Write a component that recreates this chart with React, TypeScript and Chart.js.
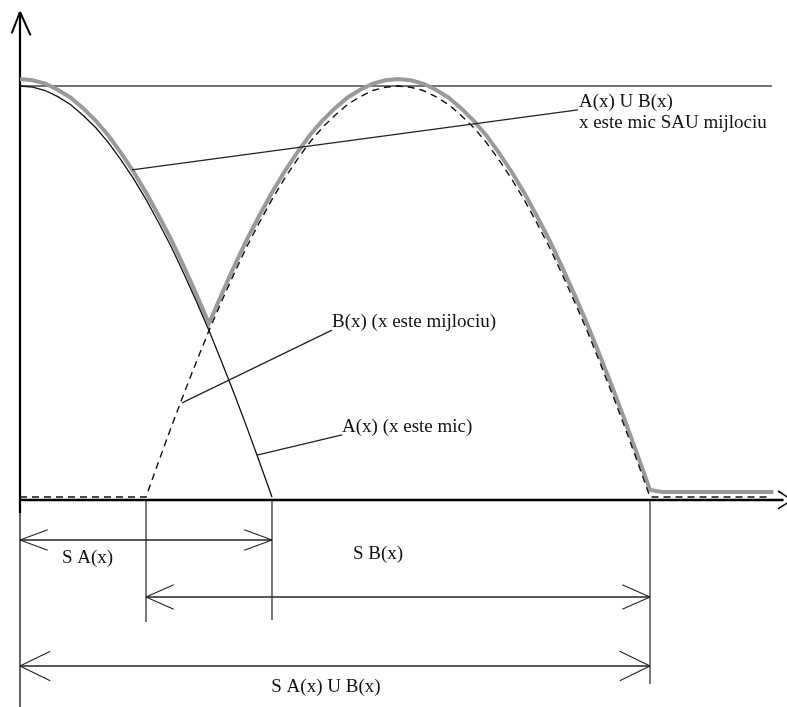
import React, { useEffect, useRef } from "react";
import { Chart, registerables } from "chart.js";

Chart.register(...registerables);

// ---- data (x in abstract units, y = membership degree) ----
const aX = [0, 0.5, 1, 1.5, 2, 2.5, 3, 3.5, 4, 4.5, 5, 5.5, 6, 6.5, 7, 7.5, 8, 8.5, 9, 9.5, 10];
const aY = [1, 0.997, 0.989, 0.974, 0.955, 0.929, 0.899, 0.863, 0.821, 0.775, 0.724, 0.668, 0.609, 0.544, 0.476, 0.405, 0.329, 0.251, 0.17, 0.086, 0];

const bX = [0, 5, 5.5, 6, 6.5, 7, 7.5, 8, 8.5, 9, 9.5, 10, 10.5, 11, 11.5, 12, 12.5, 13, 13.5, 14, 14.5, 15,
  15.5, 16, 16.5, 17, 17.5, 18, 18.5, 19, 19.5, 20, 20.5, 21, 21.5, 22, 22.5, 23, 23.5, 24, 24.5, 25, 29.7];
const bY = [0, 0, 0.086, 0.17, 0.251, 0.329, 0.405, 0.476, 0.544, 0.609, 0.668, 0.724, 0.775, 0.821, 0.863, 0.899, 0.929, 0.955, 0.974, 0.989, 0.997, 1,
  0.997, 0.989, 0.974, 0.955, 0.929, 0.899, 0.863, 0.821, 0.775, 0.724, 0.668, 0.609, 0.544, 0.476, 0.405, 0.329, 0.251, 0.17, 0.086, 0, 0];

const uX = [0, 0.5, 1, 1.5, 2, 2.5, 3, 3.5, 4, 4.5, 5, 5.5, 6, 6.5, 7, 7.5, 8, 8.5, 9, 9.5, 10, 10.5, 11, 11.5, 12, 12.5,
  13, 13.5, 14, 14.5, 15, 15.5, 16, 16.5, 17, 17.5, 18, 18.5, 19, 19.5, 20, 20.5, 21, 21.5, 22, 22.5, 23, 23.5, 24, 24.5, 25, 25.5, 29.9];
const uY = [1.017, 1.014, 1.006, 0.991, 0.972, 0.946, 0.916, 0.88, 0.838, 0.792, 0.741, 0.685, 0.626, 0.561, 0.493, 0.422,
  0.493, 0.561, 0.626, 0.685, 0.741, 0.792, 0.838, 0.88, 0.916, 0.946, 0.972, 0.991, 1.006, 1.014, 1.017,
  1.014, 1.006, 0.991, 0.972, 0.946, 0.916, 0.88, 0.838, 0.792, 0.741, 0.685, 0.626, 0.561, 0.493, 0.422, 0.346, 0.268, 0.187, 0.103, 0.017,
  0.012, 0.012];

// support bounds (x units)
const supportA = [0, 10];
const supportB = [5, 25];
const supportU = [0, 25];

// texts
const labelUnion1 = "A(x) U B(x)";
const labelUnion2 = "x este mic SAU mijlociu";
const labelB = "B(x) (x este mijlociu)";
const labelA = "A(x) (x este mic)";
const labelSA = "S A(x)";
const labelSB = "S B(x)";
const labelSU = "S A(x) U B(x)";

// ---- layout of the diagram (in data units) ----
const X_MIN = -0.7937;
const X_MAX = 30.437;
const Y_MIN = -0.5109;
const Y_MAX = 1.2092;

const AXIS_Y = -0.0073;
const ARROW_Y = { A: -0.1046, B: -0.2433, U: -0.4112 };
const GUIDE_BOTTOM = { b0: -0.304, a1: -0.299, b1: -0.455 };

const pts = (xs: number[], ys: number[]) => xs.map((x, i) => ({ x, y: ys[i] }));

const diagramPlugin = {
  id: "diagram",
  beforeDatasetsDraw(chart: any) {
    const ctx = chart.ctx as CanvasRenderingContext2D;
    const sx = (v: number) => chart.scales.x.getPixelForValue(v);
    const sy = (v: number) => chart.scales.y.getPixelForValue(v);
    const seg = (x1: number, y1: number, x2: number, y2: number, w: number, c: string) => {
      ctx.beginPath();
      ctx.lineWidth = w;
      ctx.strokeStyle = c;
      ctx.moveTo(sx(x1), sy(y1));
      ctx.lineTo(sx(x2), sy(y2));
      ctx.stroke();
    };
    ctx.save();
    ctx.lineCap = "butt";
    // horizontal line at membership 1
    seg(0, 1, 29.84, 1, 1.3, "#444");
    // y axis
    seg(0, 1.18, 0, -0.039, 2.2, "#000");
    seg(0, -0.039, 0, Y_MIN, 1.3, "#111");
    seg(0, 1.18, -0.33, 1.128, 2, "#000");
    seg(0, 1.18, 0.42, 1.123, 2, "#000");
    // x axis
    seg(0, AXIS_Y, 30.3, AXIS_Y, 2.5, "#000");
    seg(30.63, AXIS_Y, 30.08, 0.0146, 1.6, "#000");
    seg(30.63, AXIS_Y, 30.08, -0.029, 1.6, "#000");
    // vertical guides
    seg(supportB[0], AXIS_Y, supportB[0], GUIDE_BOTTOM.b0, 1.2, "#222");
    seg(supportA[1], AXIS_Y, supportA[1], GUIDE_BOTTOM.a1, 1.2, "#222");
    seg(supportB[1], AXIS_Y, supportB[1], GUIDE_BOTTOM.b1, 1.2, "#222");
    ctx.restore();
  },
  afterDatasetsDraw(chart: any) {
    const ctx = chart.ctx as CanvasRenderingContext2D;
    const sx = (v: number) => chart.scales.x.getPixelForValue(v);
    const sy = (v: number) => chart.scales.y.getPixelForValue(v);
    const seg = (x1: number, y1: number, x2: number, y2: number, w: number, c: string) => {
      ctx.beginPath();
      ctx.lineWidth = w;
      ctx.strokeStyle = c;
      ctx.moveTo(sx(x1), sy(y1));
      ctx.lineTo(sx(x2), sy(y2));
      ctx.stroke();
    };
    const dbl = (xa: number, xb: number, y: number, len: number, half: number) => {
      seg(xa, y, xb, y, 1.3, "#222");
      seg(xa, y, xa + len, y + half, 1.1, "#222");
      seg(xa, y, xa + len, y - half, 1.1, "#222");
      seg(xb, y, xb - len, y + half, 1.1, "#222");
      seg(xb, y, xb - len, y - half, 1.1, "#222");
    };
    ctx.save();
    // leader lines
    seg(4.444, 0.796, 22.14, 0.942, 1.2, "#222");
    seg(6.43, 0.229, 12.38, 0.406, 1.2, "#222");
    seg(9.4, 0.102, 12.78, 0.151, 1.2, "#222");
    // support arrows
    dbl(supportA[0], supportA[1], ARROW_Y.A, 1.1, 0.025);
    dbl(supportB[0], supportB[1], ARROW_Y.B, 1.1, 0.03);
    dbl(supportU[0], supportU[1], ARROW_Y.U, 1.2, 0.036);
    // texts
    ctx.fillStyle = "#111";
    ctx.font = '19px "Liberation Serif", "Times New Roman", serif';
    ctx.textBaseline = "middle";
    const txt = (t: string, x: number, y: number, align: CanvasTextAlign) => {
      ctx.textAlign = align;
      ctx.fillText(t, sx(x), sy(y));
    };
    txt(labelUnion1, 22.18, 0.961, "left");
    txt(labelUnion2, 22.18, 0.91, "left");
    txt(labelB, 12.38, 0.426, "left");
    txt(labelA, 12.78, 0.17, "left");
    txt(labelSA, 1.667, -0.148, "left");
    txt(labelSB, 13.21, -0.139, "left");
    txt(labelSU, 12.14, -0.462, "center");
    ctx.restore();
  },
};

export default function App() {
  const ref = useRef<HTMLCanvasElement | null>(null);
  useEffect(() => {
    if (!ref.current) return;
    const chart = new Chart(ref.current, {
      type: "line",
      data: {
        datasets: [
          {
            label: "A(x)",
            data: pts(aX, aY),
            borderColor: "#111",
            borderWidth: 1.3,
            pointRadius: 0,
            tension: 0,
            fill: false,
          },
          {
            label: "B(x)",
            data: pts(bX, bY),
            borderColor: "#111",
            borderWidth: 1.4,
            borderDash: [7, 5],
            pointRadius: 0,
            tension: 0,
            fill: false,
          },
          {
            label: "A(x) U B(x)",
            data: pts(uX, uY),
            borderColor: "#9a9a9a",
            borderWidth: 4,
            pointRadius: 0,
            tension: 0,
            fill: false,
          },
        ],
      },
      options: {
        animation: false,
        responsive: false,
        devicePixelRatio: 1,
        events: [],
        layout: { padding: 0 },
        scales: {
          x: { type: "linear", min: X_MIN, max: X_MAX, display: false },
          y: { type: "linear", min: Y_MIN, max: Y_MAX, display: false },
        },
        plugins: { legend: { display: false }, tooltip: { enabled: false } },
      },
      plugins: [diagramPlugin],
    } as any);
    return () => chart.destroy();
  }, []);
  return (
    <div style={{ position: "fixed", left: 0, top: 0, width: 787, height: 707, background: "#fff" }}>
      <canvas ref={ref} width={787} height={707} style={{ display: "block" }} />
    </div>
  );
}
